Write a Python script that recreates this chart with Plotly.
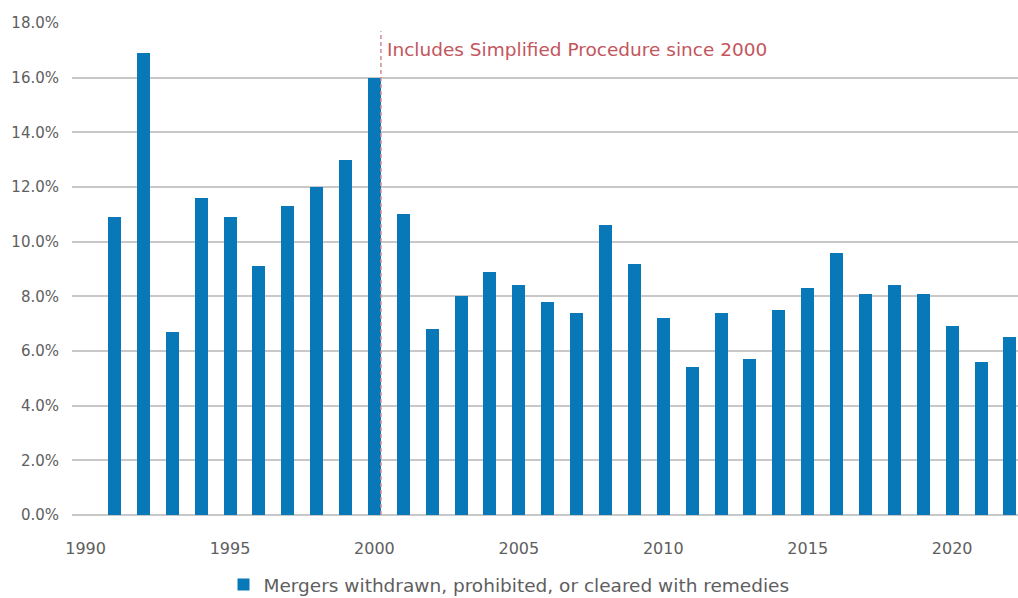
import plotly.graph_objects as go

years = list(range(1991, 2023))
share_pct = [10.9, 16.9, 6.7, 11.6, 10.9, 9.1, 11.3, 12.0, 13.0, 16.0,
             11.0, 6.8, 8.0, 8.9, 8.4, 7.8, 7.4, 10.6, 9.2, 7.2,
             5.4, 7.4, 5.7, 7.5, 8.3, 9.6, 8.1, 8.4, 8.1, 6.9,
             5.6, 6.5]
series_name = "Mergers withdrawn, prohibited, or cleared with remedies"
note_text = "Includes Simplified Procedure since 2000"
note_year = 2000
x_ticks = [1990, 1995, 2000, 2005, 2010, 2015, 2020]
y_ticks = [0, 2, 4, 6, 8, 10, 12, 14, 16, 18]
y_tick_text = [f"{v:.1f}%" for v in y_ticks]

FONT = "DejaVu Sans"
BAR_W = 0.45

fig = go.Figure()
fig.add_trace(go.Bar(
    x=years, y=share_pct, name=series_name, width=BAR_W,
    marker=dict(color="#0878b8", line=dict(width=0)),
    showlegend=True,
))

edge = note_year + BAR_W / 2
fig.add_shape(type="line", xref="x", yref="y", x0=edge, x1=edge, y0=0, y1=17.7,
              line=dict(color="#d08a92", width=1.5, dash="4px,3px"), layer="above")
fig.add_annotation(x=edge, y=17.03, xref="x", yref="y", text=note_text,
                   showarrow=False, xanchor="left", yanchor="middle", xshift=4,
                   font=dict(family=FONT, size=18.5, color="#c4555d"))

fig.update_layout(
    width=1018, height=598,
    margin=dict(l=72, r=0, t=23, b=83, autoexpand=False),
    plot_bgcolor="white", paper_bgcolor="white",
    font=dict(family=FONT, size=15, color="#5e5e5e"),
    xaxis=dict(range=[1989.53, 2022.28], tickvals=x_ticks, showgrid=False,
               zeroline=False, showline=False, ticks="", ticklabelstandoff=22,
               automargin=False,
               tickfont=dict(family=FONT, size=16, color="#5e5e5e")),
    yaxis=dict(range=[0, 18], tickvals=y_ticks, ticktext=y_tick_text,
               showgrid=True, gridcolor="#c8c8c8", gridwidth=1.5,
               zeroline=True, zerolinecolor="#c8c8c8", zerolinewidth=1.5,
               showline=False, ticks="", ticklabelstandoff=12, automargin=False,
               tickfont=dict(family=FONT, size=15, color="#5e5e5e")),
    legend=dict(orientation="h", xref="container", yref="paper",
                x=0.5, xanchor="center", y=-0.142, yanchor="middle",
                font=dict(family=FONT, size=18.5, color="#5e5e5e"),
                bgcolor="rgba(0,0,0,0)"),
    bargap=0,
)

page_js = ("document.body.style.margin='0';"
           "document.body.style.overflow='hidden';"
           "document.documentElement.style.overflow='hidden';")
fig.write_html("out.html", post_script=page_js,
               config={"displayModeBar": False})
